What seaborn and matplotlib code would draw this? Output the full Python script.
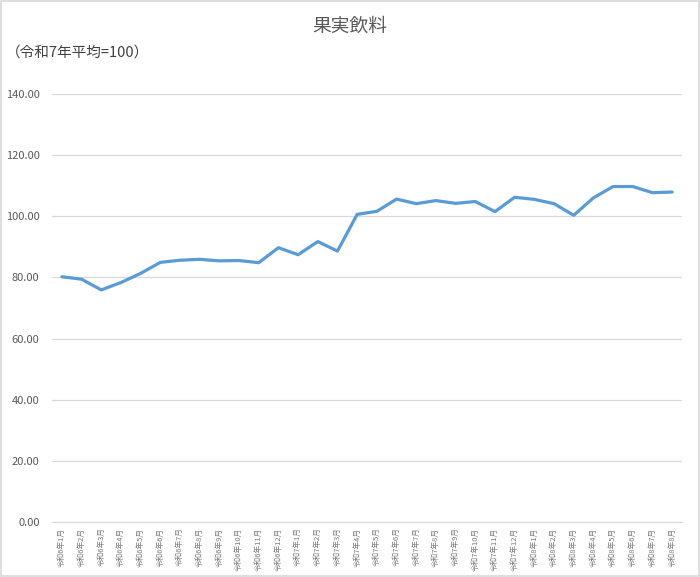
import pandas as pd
import matplotlib.pyplot as plt
import seaborn as sns
from matplotlib.patches import Rectangle
from matplotlib.ticker import FormatStrFormatter

# 果実飲料 index (令和7年平均=100)
months = [
    '令和6年1月', '令和6年2月', '令和6年3月', '令和6年4月', '令和6年5月', '令和6年6月',
    '令和6年7月', '令和6年8月', '令和6年9月', '令和6年10月', '令和6年11月', '令和6年12月',
    '令和7年1月', '令和7年2月', '令和7年3月', '令和7年4月', '令和7年5月', '令和7年6月',
    '令和7年7月', '令和7年8月', '令和7年9月', '令和7年10月', '令和7年11月', '令和7年12月',
    '令和8年1月', '令和8年2月', '令和8年3月', '令和8年4月', '令和8年5月', '令和8年6月',
    '令和8年7月', '令和8年8月',
]
index_values = [
    80.2, 79.4, 75.9, 78.3, 81.3, 84.9, 85.6, 85.9, 85.4, 85.5, 84.8, 89.7,
    87.4, 91.7, 88.6, 100.6, 101.6, 105.6, 104.1, 105.1, 104.2, 104.8, 101.5, 106.2,
    105.5, 104.1, 100.3, 106.0, 109.7, 109.7, 107.7, 107.9,
]
y_ticks = [0, 20, 40, 60, 80, 100, 120, 140]

title = '果実飲料'
subtitle = '（令和7年平均=100）'

GRAY_TEXT = '#595959'
GRID = '#d9d9d9'
LINE = '#5b9bd5'


def main():
    sns.set_theme(style='white')
    plt.rcParams['font.family'] = ['Noto Sans CJK JP', 'DejaVu Sans']

    df = pd.DataFrame({'month': months, 'value': index_values})

    fig = plt.figure(figsize=(7.0, 5.77), dpi=100)
    ax = fig.add_axes([0.0743, 0.0953, 0.9, 0.742])

    sns.lineplot(data=df, x='month', y='value', color=LINE, linewidth=2.3,
                 sort=False, ax=ax)

    ax.set_xlim(-0.5, len(months) - 0.5)
    ax.set_ylim(0, 140)
    ax.set_yticks(y_ticks)
    ax.yaxis.set_major_formatter(FormatStrFormatter('%.2f'))
    ax.yaxis.grid(True, color=GRID, linewidth=0.9)
    ax.set_axisbelow(True)

    ax.set_xticks(range(len(months)))
    ax.set_xticklabels(months, rotation=90, fontsize=5.5, color='#7a7a7a')
    ax.tick_params(axis='y', labelsize=8, labelcolor=GRAY_TEXT, length=0, pad=9)
    ax.tick_params(axis='x', length=0, pad=4)
    ax.set_xlabel('')
    ax.set_ylabel('')

    for side in ['top', 'right', 'left']:
        ax.spines[side].set_visible(False)
    ax.spines['bottom'].set_color(GRID)
    ax.spines['bottom'].set_linewidth(0.9)

    fig.text(0.5, 0.955, title, ha='center', va='center', fontsize=13.5, color=GRAY_TEXT)
    fig.text(0.008, 0.909, subtitle, ha='left', va='center', fontsize=10.5, color='#404040')

    # light border round the chart area
    fig.patches.append(Rectangle((0.001, 0.001), 0.998, 0.998, transform=fig.transFigure,
                                 fill=False, edgecolor=GRID, linewidth=1.2))

    fig.savefig('out.png', dpi=100)
    plt.close(fig)


if __name__ == '__main__':
    main()
